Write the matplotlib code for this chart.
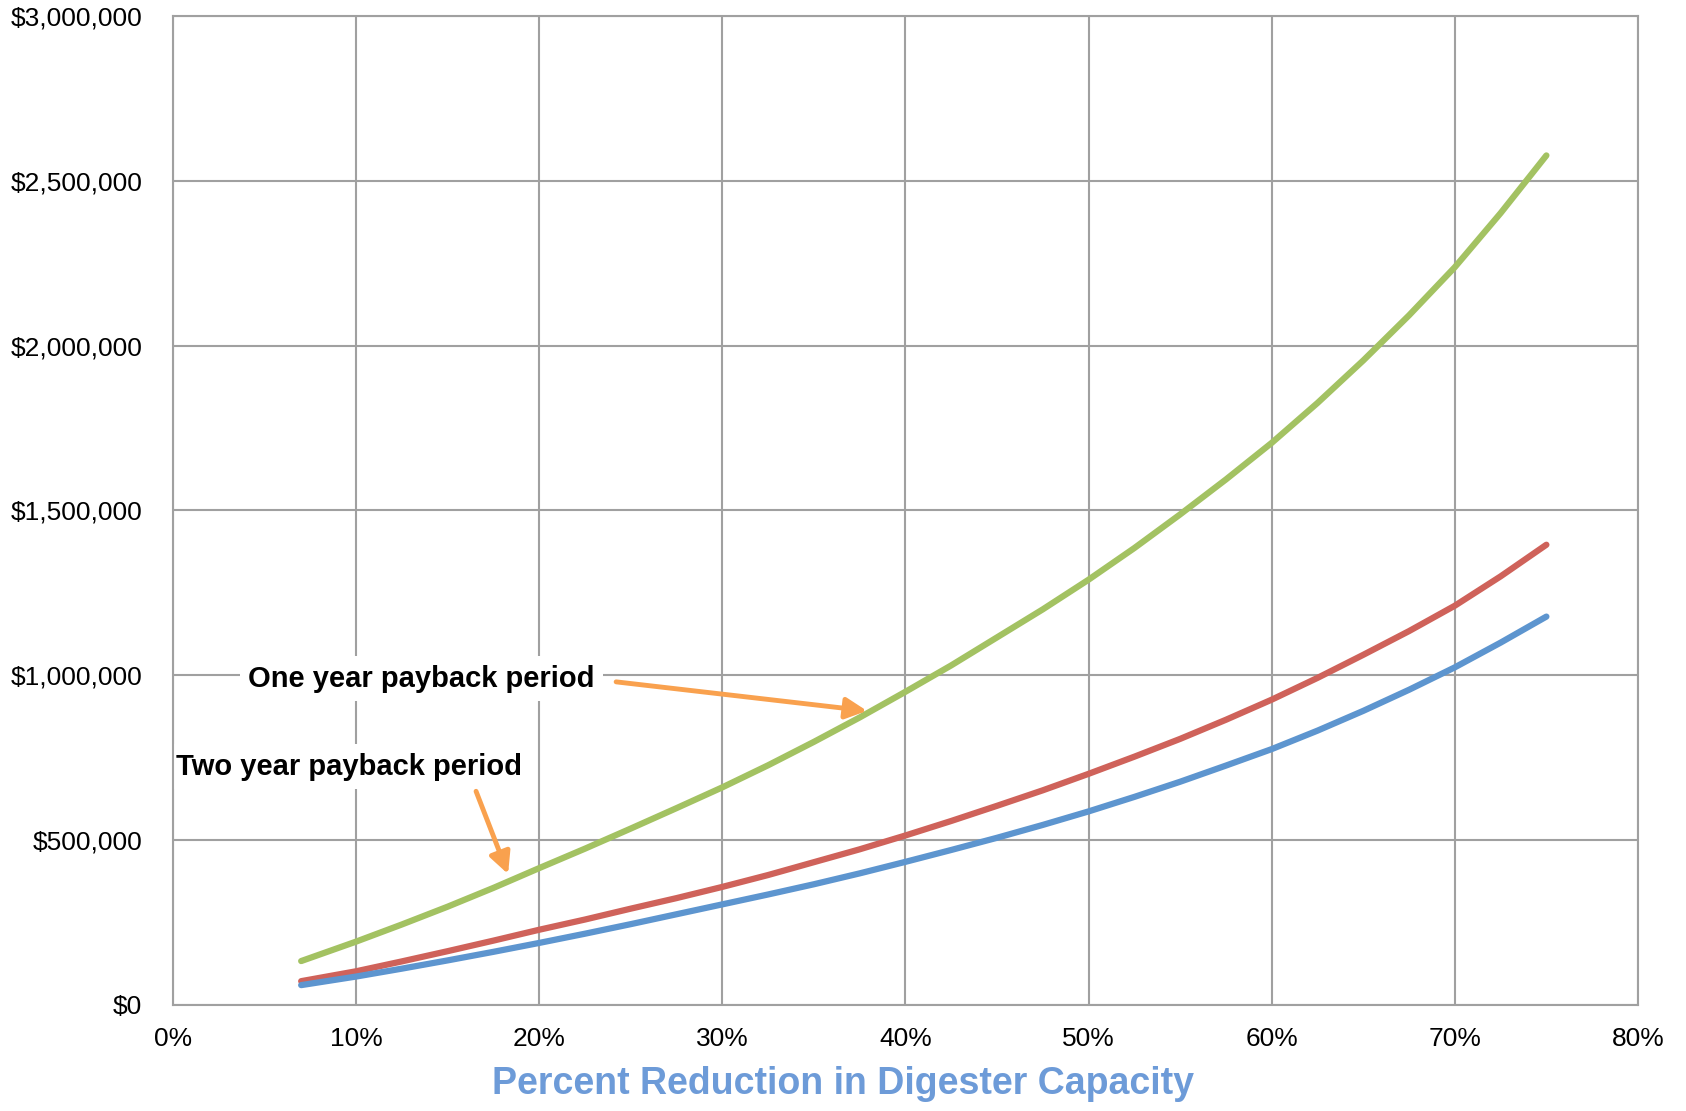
import matplotlib
matplotlib.use("Agg")
import matplotlib.pyplot as plt
from matplotlib.ticker import FuncFormatter

# Data
reduction_pct = [7, 10, 12.5, 15, 17.5, 20, 22.5, 25, 27.5, 30, 32.5, 35, 37.5, 40,
                 42.5, 45, 47.5, 50, 52.5, 55, 57.5, 60, 62.5, 65, 67.5, 70, 72.5, 75]
one_year = [133, 192, 244, 298, 355, 415, 474, 535, 597, 660, 727, 798, 872, 950,
            1030, 1115, 1200, 1290, 1386, 1488, 1594, 1705, 1826, 1955, 2092, 2238, 2402, 2577]
two_year = [72, 102, 132, 163, 195, 228, 259, 292, 324, 358, 394, 433, 472, 514,
            558, 604, 651, 701, 753, 807, 865, 926, 992, 1062, 1134, 1211, 1300, 1396]
blue_series = [60, 86, 110, 135, 161, 188, 216, 245, 275, 305, 335, 366, 399, 434,
               470, 507, 546, 587, 631, 677, 726, 776, 832, 892, 956, 1024, 1099, 1178]

# values above are in thousands of dollars
one_year = [v * 1000 for v in one_year]
two_year = [v * 1000 for v in two_year]
blue_series = [v * 1000 for v in blue_series]

x_ticks = [0, 10, 20, 30, 40, 50, 60, 70, 80]
y_ticks = [0, 500e3, 1000e3, 1500e3, 2000e3, 2500e3, 3000e3]

plt.rcParams['font.family'] = ['Liberation Sans', 'DejaVu Sans']

fig = plt.figure(figsize=(16.86, 11.11), dpi=100)
ax = fig.add_axes([0.1026, 0.0955, 0.9715 - 0.1026, 0.9856 - 0.0955])

# Curves
ax.plot(reduction_pct, one_year, color='#A3C262', lw=4.5, solid_capstyle='round',
        solid_joinstyle='round', zorder=3)
ax.plot(reduction_pct, two_year, color='#CF625A', lw=4.5, solid_capstyle='round',
        solid_joinstyle='round', zorder=3)
ax.plot(reduction_pct, blue_series, color='#5D95CF', lw=4.5, solid_capstyle='round',
        solid_joinstyle='round', zorder=3)

# Axes
ax.set_xlim(0, 80)
ax.set_ylim(0, 3e6)
ax.set_xticks(x_ticks)
ax.set_yticks(y_ticks)
ax.xaxis.set_major_formatter(FuncFormatter(lambda v, p: f"{v:.0f}%"))
ax.yaxis.set_major_formatter(FuncFormatter(lambda v, p: f"${v:,.0f}"))
ax.tick_params(length=0)
ax.tick_params(axis='x', pad=16, labelsize=19)
ax.tick_params(axis='y', pad=22, labelsize=19)
ax.grid(True, color='#A0A0A0', lw=1.5, zorder=0)
ax.set_axisbelow(True)
for s in ax.spines.values():
    s.set_color('#A0A0A0')
    s.set_linewidth(1.5)
    s.set_zorder(5)

# Annotations
arrow_style = dict(arrowstyle='-|>', color='#F9A14E', lw=3.5, mutation_scale=32,
                   shrinkA=0, shrinkB=0)
ax.text(13.56, 990e3, 'One year payback period', fontsize=21, fontweight='bold',
        ha='center', va='center', zorder=4,
        bbox=dict(facecolor='white', edgecolor='none', pad=6))
ax.annotate('', xy=(37.9, 892e3), xytext=(24.2, 980e3), arrowprops=arrow_style, zorder=4)
ax.text(9.63, 723e3, 'Two year payback period', fontsize=21, fontweight='bold',
        ha='center', va='center', zorder=4,
        bbox=dict(facecolor='white', edgecolor='none', pad=6))
ax.annotate('', xy=(18.3, 397e3), xytext=(16.55, 648e3), arrowprops=arrow_style, zorder=4)

# X label centred on the figure
fig.text(0.5, 0.024, 'Percent Reduction in Digester Capacity', fontsize=27,
         fontweight='bold', color='#6D9BD8', ha='center', va='center')

fig.savefig('out.png', dpi=100)
